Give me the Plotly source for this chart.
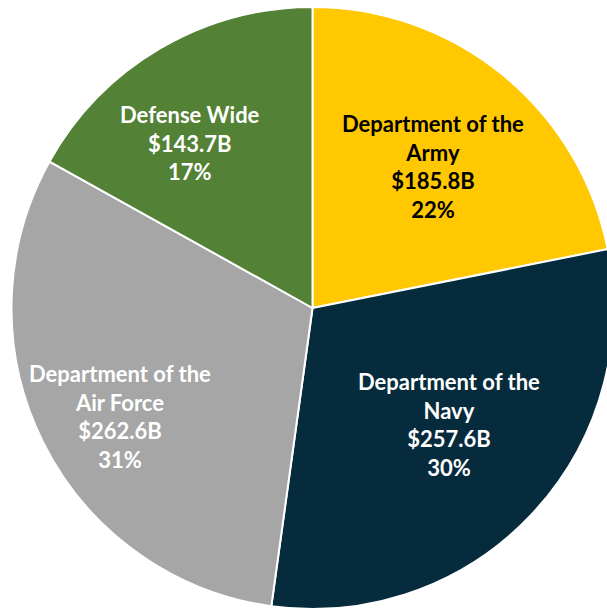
import plotly.graph_objects as go

labels = ["Department of the<br>Army", "Department of the<br>Navy",
          "Department of the<br>Air Force", "Defense Wide"]
values = [185.8, 257.6, 262.6, 143.7]
value_text = ["$185.8B", "$257.6B", "$262.6B", "$143.7B"]
colors = ["#FFC800", "#062B3C", "#A6A6A6", "#538135"]
font_colors = ["#000000", "#FFFFFF", "#FFFFFF", "#FFFFFF"]

# label anchor positions (paper fraction) for each slice's text block
label_x = [0.700, 0.726, 0.181, 0.297]
label_y = [0.735, 0.307, 0.320, 0.774]

fig = go.Figure(go.Pie(
    labels=labels,
    values=values,
    sort=False,
    direction="clockwise",
    rotation=0,
    marker=dict(colors=colors, line=dict(color="#FFFFFF", width=2)),
    textinfo="none",
    hoverinfo="skip",
    showlegend=False,
))

total = sum(values)
for lab, v, vt, fc, lx, ly in zip(labels, values, value_text, font_colors, label_x, label_y):
    pct = round(100 * v / total)
    fig.add_annotation(
        x=lx, y=ly, xref="paper", yref="paper",
        text=f"{lab}<br>{vt}<br>{pct}%",
        showarrow=False, xanchor="center", yanchor="middle", align="center",
        font=dict(family="Lato", size=22, color=fc, weight="bold"),
    )

fig.update_layout(
    width=614, height=610,
    margin=dict(l=11, r=0, t=7, b=1),
    paper_bgcolor="white",
    plot_bgcolor="white",
)

fig.write_html(
    "out.html",
    config={"displayModeBar": False},
    post_script="document.body.style.margin='0';document.body.style.overflow='hidden';",
)
